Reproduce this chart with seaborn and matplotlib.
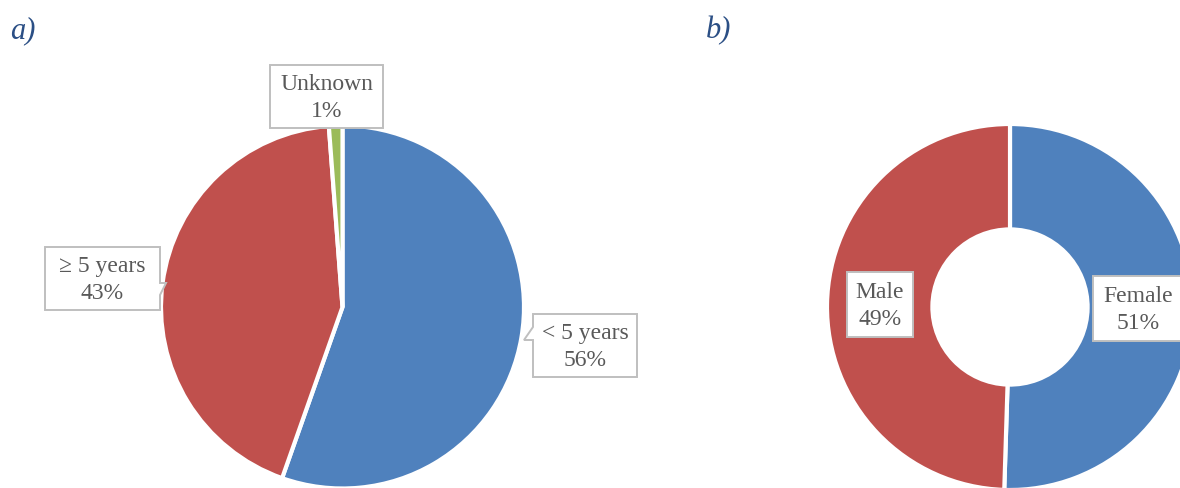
import numpy as np
import matplotlib
matplotlib.use("Agg")
import matplotlib.pyplot as plt
from matplotlib.patches import Polygon
import seaborn as sns

sns.set_theme(style="white")
plt.rcParams["font.family"] = ["Liberation Serif", "DejaVu Serif"]

# panel a) time since diagnosis
age_labels = ["< 5 years", "\u2265 5 years", "Unknown"]
age_share = [55.4, 43.4, 1.2]
age_pct = ["56%", "43%", "1%"]

# panel b) sex
sex_labels = ["Female", "Male"]
sex_share = [50.5, 49.5]
sex_pct = ["51%", "49%"]

blue, red, green = "#4f81bd", "#c0504d", "#9bbb59"
txt_col = "#595959"
box_col = "#bfbfbf"

W, H = 1180, 489
fig = plt.figure(figsize=(W / 100, H / 100), dpi=100)
M = 1.03  # axis margin around unit pie


def pie_axes(cx, cy, r):
    half = r * M
    return fig.add_axes([(cx - half) / W, (H - cy - half) / H, 2 * half / W, 2 * half / H])


def to_data(cx, cy, r, pts):
    return [((px - cx) / r, (cy - py) / r) for px, py in pts]


def callout(ax, cx, cy, r, verts, center, text):
    poly = Polygon(to_data(cx, cy, r, verts), closed=True, facecolor="white",
                   edgecolor=box_col, linewidth=1.4, clip_on=False, zorder=5)
    ax.add_patch(poly)
    tx, ty = to_data(cx, cy, r, [center])[0]
    ax.text(tx, ty, text, ha="center", va="center", fontsize=17, color=txt_col,
            linespacing=1.38, zorder=6, clip_on=False)


# ---- a) pie
cxa, cya, ra = 342.5, 308, 181.5
ax1 = pie_axes(cxa, cya, ra)
ax1.pie(age_share, colors=[blue, red, green], startangle=90, counterclock=False,
        radius=1, wedgeprops=dict(edgecolor="white", linewidth=3))
ax1.set_xlim(-M, M)
ax1.set_ylim(-M, M)
ax1.axis("off")

callout(ax1, cxa, cya, ra,
        [(533, 315), (637, 315), (637, 378), (533, 378), (533, 341), (524, 341), (533, 328)],
        (585, 347), f"{age_labels[0]}\n{age_pct[0]}")
callout(ax1, cxa, cya, ra,
        [(45, 248), (160, 248), (160, 284), (166, 284), (160, 296), (160, 311), (45, 311)],
        (102, 280), f"{age_labels[1]}\n{age_pct[1]}")
callout(ax1, cxa, cya, ra,
        [(270, 66), (383, 66), (383, 129), (270, 129)],
        (326.5, 98), f"{age_labels[2]}\n{age_pct[2]}")

# ---- b) donut
cxb, cyb, rb = 1010, 308, 183
ax2 = pie_axes(cxb, cyb, rb)
ax2.pie(sex_share, colors=[blue, red], startangle=90, counterclock=False,
        radius=1, wedgeprops=dict(width=0.576, edgecolor="white", linewidth=3))
ax2.set_xlim(-M, M)
ax2.set_ylim(-M, M)
ax2.axis("off")

callout(ax2, cxb, cyb, rb,
        [(1093, 277), (1190, 277), (1190, 342), (1093, 342)],
        (1138.5, 310), f"{sex_labels[0]}\n{sex_pct[0]}")
callout(ax2, cxb, cyb, rb,
        [(847, 273), (913, 273), (913, 338), (847, 338)],
        (880, 306), f"{sex_labels[1]}\n{sex_pct[1]}")

# panel letters
fig.text(10 / W, 1 - 38 / H, "a)", fontsize=22, style="italic", color="#2b4f85",
         ha="left", va="baseline")
fig.text(706 / W, 1 - 38 / H, "b)", fontsize=22, style="italic", color="#2b4f85",
         ha="left", va="baseline")

fig.savefig("out.png", dpi=100)
